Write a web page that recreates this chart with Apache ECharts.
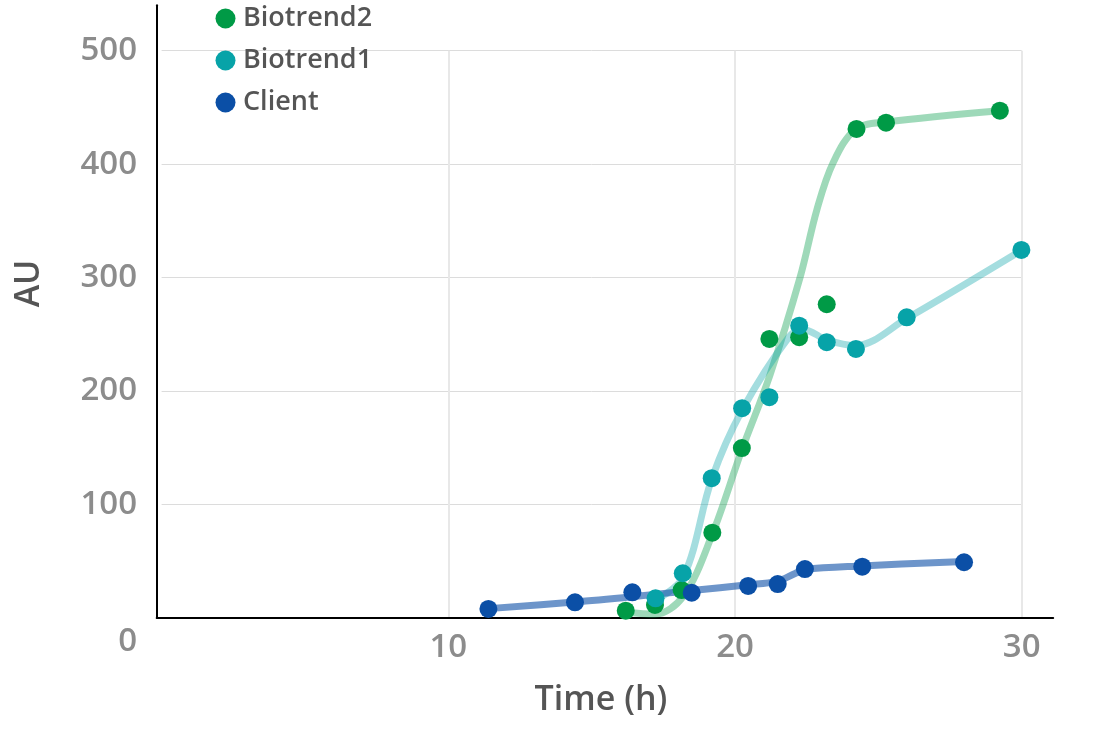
<!DOCTYPE html>
<html><head><meta charset="utf-8">
<script src="https://cdn.jsdelivr.net/npm/echarts@6/dist/echarts.min.js"></script>
<style>html,body{margin:0;padding:0;background:#fff}#c{width:1112px;height:738px}</style>
</head><body><div id="c"></div>
<script>
// ---- data ----
const legendNames = ['Biotrend2', 'Biotrend1', 'Client'];
const xTickValues = [10, 20, 30];
const yTickValues = [0, 100, 200, 300, 400, 500];

const clientPoints = [[11.40,7.7],[14.42,13.6],[16.42,22.4],[18.49,22.0],[20.46,28.0],[21.49,29.7],[22.44,42.9],[24.44,45.0],[27.99,48.9]];
const biotrend1Points = [[17.23,17.1],[18.18,39.2],[19.19,123],[20.25,184.7],[21.20,194.4],[22.24,257.5],[23.20,242.9],[24.22,237],[25.99,264.9],[29.99,324.3]];
const biotrend2Points = [[16.19,6.2],[17.21,11.2],[18.14,24.4],[19.21,75],[20.24,149.6],[21.20,245.8],[22.24,247.3],[23.20,276.4],[24.24,431],[25.27,436.5],[29.24,447.1]];

const clientTrend = [[11.4,8],[14.4,13.8],[16.4,18.5],[18.5,24],[20.45,29],[21.45,32],[22.1,39],[22.45,42.5],[24.4,45.6],[28,49.6]];
const biotrend1Trend = [[17.2,15],[18.2,36],[19.2,123],[20.25,183],[21.9,248],[22.4,254],[23.2,245],[24.2,240],[26,264],[30,324]];
const biotrend2Trend = [[16.2,5],[17.2,3],[18.2,19],[19.2,73],[20.24,148],[21.22,214],[22.27,300],[22.86,360],[23.42,401],[24.22,431],[25.27,437],[29.24,447]];

// ---- styling ----
const FONT = 'Open Sans';
const tickColor = '#8c8c8c';
const nameColor = '#555555';
const colors = {
  Biotrend2: { point: '#009a46', line: 'rgba(0,154,70,0.38)' },
  Biotrend1: { point: '#07a3a8', line: 'rgba(7,163,168,0.37)' },
  Client:    { point: '#0b4fa6', line: 'rgba(11,79,166,0.6)' }
};

const chart = echarts.init(document.getElementById('c'), null, { renderer: 'canvas' });

const lineSeries = (name, data) => ({
  name: name + ' trend', type: 'line', xAxisIndex: 1, yAxisIndex: 1, data,
  smooth: 0.35, showSymbol: false, symbol: 'none', z: 2, silent: true,
  lineStyle: { width: 7, color: colors[name].line, cap: 'round', join: 'round' }
});
const pointSeries = (name, data, z) => ({
  name, type: 'scatter', xAxisIndex: 1, yAxisIndex: 1, data, symbolSize: 18, z,
  itemStyle: { color: colors[name].point, opacity: 1 }
});

const option = {
  animation: false,
  backgroundColor: '#ffffff',
  textStyle: { fontFamily: FONT },
  legend: {
    data: legendNames, orient: 'vertical', left: 210.5, top: 0,
    itemWidth: 25, itemHeight: 20, itemGap: 15, icon: 'circle',
    textStyle: { fontSize: 27, color: nameColor, fontWeight: 600, fontFamily: FONT }
  },
  grid: [
    // grid lines area: x 0..30, y 0..500
    { left: 161.6, width: 860.1, top: 50.7, height: 567, containLabel: false },
    // data + axis lines: x -0.17..31.1, y 0..540
    { left: 156.7, right: 58.8, top: 5.3, bottom: 120.3, containLabel: false }
  ],
  xAxis: [
    {
      gridIndex: 0, type: 'value', min: 0, max: 30, interval: 10,
      axisLine: { show: false }, axisTick: { show: false },
      splitLine: { show: true, lineStyle: { width: 2, color: ['rgba(0,0,0,0)', '#e8e8e8', '#e8e8e8', '#e8e8e8'] } },
      axisLabel: {
        show: true, showMinLabel: false, margin: 13,
        fontSize: 33, fontWeight: 600, color: tickColor, fontFamily: FONT,
        formatter: v => xTickValues.includes(v) ? String(v) : ''
      }
    },
    {
      gridIndex: 1, type: 'value', min: -0.17, max: 31.1,
      axisLine: { show: true, onZero: false, lineStyle: { color: '#000', width: 2 } },
      axisTick: { show: false }, axisLabel: { show: false }, splitLine: { show: false },
      name: 'Time (h)', nameLocation: 'middle', nameGap: 66,
      nameTextStyle: { fontSize: 34, fontWeight: 600, color: nameColor, fontFamily: FONT, padding: [0, 8, 0, 0] }
    }
  ],
  yAxis: [
    {
      gridIndex: 0, type: 'value', min: 0, max: 500, interval: 100,
      axisLine: { show: false }, axisTick: { show: false },
      splitLine: { show: true, lineStyle: { width: 1, color: ['rgba(0,0,0,0)', '#dcdcdc', '#dcdcdc', '#dcdcdc', '#dcdcdc', '#dcdcdc'] } },
      axisLabel: {
        show: true, margin: 24.6,
        fontSize: 33, fontWeight: 600, color: tickColor, fontFamily: FONT,
        formatter: v => yTickValues.includes(v) ? (v === 0 ? '{z|0}' : String(v)) : '',
        rich: { z: { fontSize: 33, fontWeight: 600, color: tickColor, fontFamily: FONT, padding: [48, 0, 0, 0] } }
      }
    },
    {
      gridIndex: 1, type: 'value', min: 0, max: 540,
      axisLine: { show: true, onZero: false, lineStyle: { color: '#000', width: 2 } },
      axisTick: { show: false }, axisLabel: { show: false }, splitLine: { show: false },
      name: 'AU', nameLocation: 'middle', nameGap: 110,
      nameTextStyle: { fontSize: 34, fontWeight: 600, color: nameColor, fontFamily: FONT, padding: [0, 0, 0, 56] }
    }
  ],
  series: [
    lineSeries('Biotrend2', biotrend2Trend),
    lineSeries('Biotrend1', biotrend1Trend),
    lineSeries('Client', clientTrend),
    pointSeries('Biotrend2', biotrend2Points, 3),
    pointSeries('Biotrend1', biotrend1Points, 4),
    pointSeries('Client', clientPoints, 5)
  ]
};
chart.setOption(option);
</script></body></html>
